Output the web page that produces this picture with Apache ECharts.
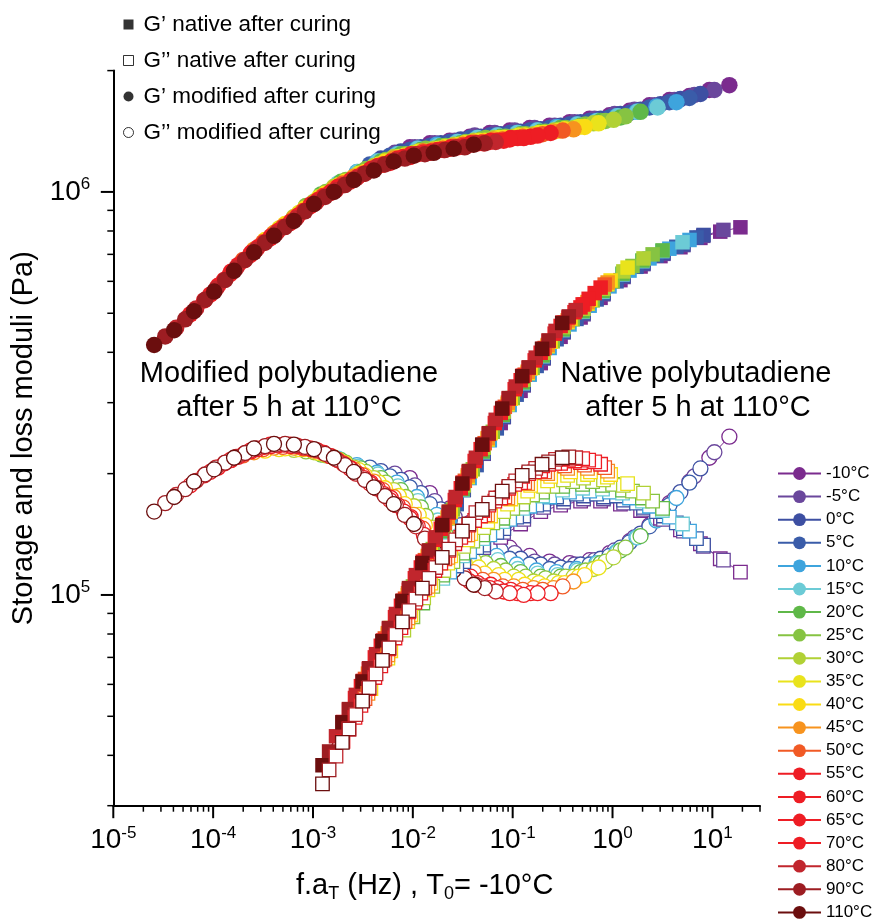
<!DOCTYPE html>
<html><head><meta charset="utf-8">
<script src="https://cdn.jsdelivr.net/npm/echarts@6/dist/echarts.min.js"></script>
<style>html,body{margin:0;padding:0;background:#fff}#chart{width:875px;height:924px}</style>
</head><body><div id="chart"></div>
<script>
// ---- data ----
const temps = ['-10°C','-5°C','0°C','5°C','10°C','15°C','20°C','25°C','30°C','35°C','40°C','45°C','50°C','55°C','60°C','65°C','70°C','80°C','90°C','110°C'];
const colors = ['#7B2B8E','#6A479C','#3D4FA2','#3A5CA9','#3EA4DD','#6CCBD6','#5FB848','#86C342','#B1D135','#E9E31C','#FADC14','#F7931E','#F15A25','#EE1D24','#EE1D24','#EE1D24','#EE1D24','#C1262D','#9D1D22','#6B0E0E'];
// measurement frequencies (Hz)
const freqModified = [0.00933, 0.0148, 0.0234, 0.0372, 0.0589, 0.0933, 0.148, 0.234, 0.372, 0.589, 0.933, 1.48, 2.34, 3.72, 5.89, 9.33, 14.8];
const freqNative = [0.0759, 0.120, 0.191, 0.302, 0.479, 0.759, 1.20, 1.91, 3.02, 4.79, 7.59, 12.0, 19.1];
// shift factors aT (T0 = -10 °C), one per temperature
const aTModified = [1, 0.708, 0.513, 0.398, 0.295, 0.191, 0.129, 0.0912, 0.0692, 0.0490, 0.0355, 0.0275, 0.0214, 0.0162, 0.0120, 0.00871, 0.00631, 0.00457, 0.00355, 0.00275];
const aTNative = [1, 0.676, 0.427, 0.363, 0.309, 0.263, 0.166, 0.132, 0.107, 0.0741, 0.0501, 0.0468, 0.0437, 0.0398, 0.0347, 0.0302, 0.0263, 0.0224, 0.0191, 0.0164];
// G' modified (Pa), rows = temperatures
const GpModified = [
 [1.29e6,1.32e6,1.34e6,1.37e6,1.40e6,1.42e6,1.44e6,1.46e6,1.49e6,1.52e6,1.55e6,1.59e6,1.64e6,1.69e6,1.73e6,1.79e6,1.84e6],
 [1.25e6,1.29e6,1.32e6,1.34e6,1.38e6,1.40e6,1.42e6,1.44e6,1.46e6,1.49e6,1.52e6,1.56e6,1.60e6,1.64e6,1.69e6,1.74e6,1.79e6],
 [1.21e6,1.26e6,1.29e6,1.32e6,1.35e6,1.37e6,1.39e6,1.41e6,1.43e6,1.46e6,1.49e6,1.52e6,1.56e6,1.60e6,1.65e6,1.70e6,1.75e6],
 [1.17e6,1.23e6,1.27e6,1.30e6,1.33e6,1.36e6,1.38e6,1.40e6,1.42e6,1.44e6,1.47e6,1.50e6,1.53e6,1.57e6,1.62e6,1.67e6,1.71e6],
 [1.12e6,1.19e6,1.24e6,1.28e6,1.31e6,1.33e6,1.36e6,1.38e6,1.40e6,1.42e6,1.45e6,1.47e6,1.50e6,1.54e6,1.58e6,1.63e6,1.67e6],
 [1.05e6,1.12e6,1.19e6,1.24e6,1.28e6,1.30e6,1.33e6,1.36e6,1.38e6,1.40e6,1.42e6,1.44e6,1.47e6,1.50e6,1.54e6,1.58e6,1.62e6],
 [9.86e5,1.06e6,1.12e6,1.19e6,1.24e6,1.27e6,1.30e6,1.32e6,1.35e6,1.37e6,1.39e6,1.41e6,1.44e6,1.46e6,1.50e6,1.53e6,1.58e6],
 [9.23e5,1.00e6,1.07e6,1.14e6,1.20e6,1.24e6,1.28e6,1.30e6,1.33e6,1.36e6,1.37e6,1.39e6,1.41e6,1.44e6,1.47e6,1.50e6,1.54e6],
 [8.67e5,9.46e5,1.03e6,1.09e6,1.16e6,1.22e6,1.25e6,1.28e6,1.31e6,1.34e6,1.36e6,1.37e6,1.39e6,1.42e6,1.44e6,1.48e6,1.51e6],
 [8.11e5,8.87e5,9.70e5,1.04e6,1.11e6,1.17e6,1.22e6,1.26e6,1.28e6,1.31e6,1.34e6,1.36e6,1.38e6,1.40e6,1.42e6,1.45e6,1.48e6],
 [7.60e5,8.32e5,9.10e5,9.89e5,1.06e6,1.12e6,1.19e6,1.23e6,1.26e6,1.29e6,1.32e6,1.34e6,1.36e6,1.38e6,1.40e6,1.43e6,1.45e6],
 [7.19e5,7.91e5,8.61e5,9.40e5,1.02e6,1.09e6,1.15e6,1.21e6,1.24e6,1.27e6,1.30e6,1.33e6,1.35e6,1.36e6,1.38e6,1.41e6,1.43e6],
 [6.78e5,7.50e5,8.20e5,8.97e5,9.77e5,1.05e6,1.11e6,1.17e6,1.22e6,1.26e6,1.28e6,1.31e6,1.33e6,1.35e6,1.37e6,1.39e6,1.42e6],
 [6.34e5,7.06e5,7.76e5,8.45e5,9.31e5,1.00e6,1.07e6,1.14e6,1.19e6,1.24e6,1.26e6,1.29e6,1.32e6,1.34e6,1.36e6,1.37e6,1.40e6],
 [5.85e5,6.58e5,7.29e5,8.00e5,8.73e5,9.55e5,1.03e6,1.09e6,1.16e6,1.21e6,1.24e6,1.27e6,1.29e6,1.32e6,1.34e6,1.36e6,1.38e6],
 [5.38e5,6.05e5,6.76e5,7.48e5,8.18e5,8.95e5,9.75e5,1.04e6,1.11e6,1.17e6,1.22e6,1.25e6,1.27e6,1.30e6,1.32e6,1.34e6,1.36e6],
 [4.97e5,5.56e5,6.25e5,6.97e5,7.67e5,8.36e5,9.20e5,9.93e5,1.06e6,1.13e6,1.18e6,1.22e6,1.25e6,1.28e6,1.31e6,1.33e6,1.35e6],
 [4.60e5,5.14e5,5.75e5,6.47e5,7.19e5,7.89e5,8.59e5,9.40e5,1.01e6,1.08e6,1.15e6,1.20e6,1.24e6,1.26e6,1.29e6,1.32e6,1.33e6],
 [4.38e5,4.83e5,5.40e5,6.05e5,6.78e5,7.48e5,8.18e5,8.95e5,9.72e5,1.04e6,1.11e6,1.17e6,1.21e6,1.24e6,1.27e6,1.29e6,1.32e6],
 [4.17e5,4.54e5,5.06e5,5.66e5,6.37e5,7.08e5,7.78e5,8.47e5,9.33e5,1.00e6,1.07e6,1.13e6,1.19e6,1.23e6,1.25e6,1.28e6,1.31e6]
];
// G'' modified (Pa)
const GppModified = [
 [1.95e5,1.79e5,1.64e5,1.51e5,1.40e5,1.31e5,1.25e5,1.21e5,1.20e5,1.22e5,1.27e5,1.36e5,1.49e5,1.69e5,1.91e5,2.19e5,2.47e5],
 [2.00e5,1.87e5,1.71e5,1.56e5,1.44e5,1.34e5,1.27e5,1.21e5,1.19e5,1.19e5,1.22e5,1.29e5,1.39e5,1.53e5,1.73e5,1.97e5,2.26e5],
 [2.03e5,1.93e5,1.79e5,1.63e5,1.49e5,1.37e5,1.29e5,1.23e5,1.19e5,1.17e5,1.19e5,1.23e5,1.31e5,1.42e5,1.58e5,1.80e5,2.06e5],
 [2.07e5,1.97e5,1.85e5,1.68e5,1.53e5,1.40e5,1.31e5,1.23e5,1.19e5,1.16e5,1.16e5,1.19e5,1.25e5,1.35e5,1.48e5,1.67e5,1.90e5],
 [2.10e5,2.01e5,1.90e5,1.75e5,1.58e5,1.44e5,1.33e5,1.25e5,1.19e5,1.15e5,1.14e5,1.16e5,1.20e5,1.28e5,1.39e5,1.53e5,1.74e5],
 [2.18e5,2.08e5,1.99e5,1.86e5,1.71e5,1.53e5,1.40e5,1.29e5,1.22e5,1.16e5,1.13e5,1.12e5,1.15e5,1.20e5,1.28e5,1.39e5,1.54e5],
 [2.23e5,2.16e5,2.06e5,1.95e5,1.82e5,1.65e5,1.48e5,1.35e5,1.25e5,1.18e5,1.14e5,1.11e5,1.11e5,1.14e5,1.20e5,1.29e5,1.40e5],
 [2.27e5,2.22e5,2.13e5,2.02e5,1.90e5,1.75e5,1.57e5,1.41e5,1.29e5,1.20e5,1.15e5,1.11e5,1.10e5,1.11e5,1.15e5,1.21e5,1.31e5],
 [2.29e5,2.26e5,2.19e5,2.07e5,1.95e5,1.82e5,1.66e5,1.47e5,1.33e5,1.22e5,1.16e5,1.11e5,1.08e5,1.08e5,1.11e5,1.16e5,1.24e5],
 [2.30e5,2.30e5,2.25e5,2.16e5,2.04e5,1.90e5,1.76e5,1.58e5,1.40e5,1.27e5,1.17e5,1.12e5,1.09e5,1.07e5,1.07e5,1.11e5,1.17e5],
 [2.28e5,2.31e5,2.30e5,2.23e5,2.12e5,1.98e5,1.84e5,1.68e5,1.49e5,1.33e5,1.20e5,1.13e5,1.09e5,1.06e5,1.05e5,1.07e5,1.12e5],
 [2.26e5,2.32e5,2.32e5,2.28e5,2.19e5,2.05e5,1.91e5,1.75e5,1.58e5,1.38e5,1.24e5,1.14e5,1.09e5,1.05e5,1.04e5,1.04e5,1.08e5],
 [2.22e5,2.30e5,2.33e5,2.31e5,2.25e5,2.12e5,1.98e5,1.82e5,1.65e5,1.46e5,1.29e5,1.17e5,1.09e5,1.05e5,1.03e5,1.03e5,1.05e5],
 [2.16e5,2.27e5,2.34e5,2.34e5,2.30e5,2.21e5,2.06e5,1.90e5,1.74e5,1.56e5,1.36e5,1.21e5,1.11e5,1.06e5,1.03e5,1.01e5,1.01e5],
 [2.07e5,2.20e5,2.30e5,2.35e5,2.34e5,2.28e5,2.16e5,2.00e5,1.84e5,1.67e5,1.48e5,1.29e5,1.16e5,1.07e5,1.04e5,1.01e5,1.01e5],
 [1.98e5,2.12e5,2.24e5,2.33e5,2.36e5,2.32e5,2.25e5,2.11e5,1.95e5,1.78e5,1.61e5,1.41e5,1.24e5,1.12e5,1.05e5,1.02e5,1.00e5],
 [1.87e5,2.02e5,2.16e5,2.28e5,2.36e5,2.36e5,2.31e5,2.21e5,2.06e5,1.89e5,1.72e5,1.55e5,1.34e5,1.19e5,1.08e5,1.04e5,1.01e5],
 [1.77e5,1.92e5,2.07e5,2.20e5,2.31e5,2.36e5,2.35e5,2.29e5,2.17e5,2.00e5,1.84e5,1.67e5,1.48e5,1.28e5,1.15e5,1.06e5,1.02e5],
 [1.69e5,1.83e5,1.99e5,2.13e5,2.25e5,2.34e5,2.37e5,2.33e5,2.24e5,2.10e5,1.93e5,1.76e5,1.58e5,1.38e5,1.21e5,1.10e5,1.04e5],
 [1.61e5,1.75e5,1.91e5,2.05e5,2.19e5,2.31e5,2.37e5,2.36e5,2.30e5,2.19e5,2.02e5,1.85e5,1.68e5,1.50e5,1.29e5,1.15e5,1.06e5]
];
// G' native (Pa)
const GpNative = [
 [2.67e5,3.21e5,3.76e5,4.37e5,4.88e5,5.46e5,6.04e5,6.53e5,6.93e5,7.29e5,7.69e5,7.97e5,8.17e5],
 [2.24e5,2.76e5,3.31e5,3.86e5,4.48e5,4.97e5,5.57e5,6.15e5,6.62e5,7.02e5,7.38e5,7.78e5,8.05e5],
 [1.82e5,2.25e5,2.77e5,3.33e5,3.88e5,4.50e5,5.00e5,5.60e5,6.18e5,6.65e5,7.05e5,7.41e5,7.82e5],
 [1.68e5,2.10e5,2.59e5,3.14e5,3.70e5,4.31e5,4.84e5,5.41e5,6.00e5,6.52e5,6.95e5,7.31e5,7.71e5],
 [1.55e5,1.95e5,2.42e5,2.96e5,3.52e5,4.10e5,4.69e5,5.22e5,5.83e5,6.38e5,6.84e5,7.23e5,7.60e5],
 [1.43e5,1.82e5,2.26e5,2.79e5,3.35e5,3.91e5,4.54e5,5.04e5,5.65e5,6.24e5,6.73e5,7.13e5,7.50e5],
 [1.16e5,1.44e5,1.83e5,2.27e5,2.80e5,3.37e5,3.93e5,4.56e5,5.06e5,5.68e5,6.27e5,6.76e5,7.16e5],
 [1.05e5,1.30e5,1.63e5,2.05e5,2.54e5,3.08e5,3.66e5,4.26e5,4.83e5,5.38e5,6.00e5,6.55e5,7.00e5],
 [9.51e4,1.18e5,1.47e5,1.87e5,2.32e5,2.85e5,3.42e5,3.99e5,4.62e5,5.13e5,5.75e5,6.35e5,6.84e5],
 [7.96e4,9.98e4,1.24e5,1.55e5,1.96e5,2.43e5,2.97e5,3.55e5,4.14e5,4.75e5,5.28e5,5.90e5,6.49e5],
 [6.58e4,8.28e4,1.04e5,1.29e5,1.61e5,2.03e5,2.52e5,3.07e5,3.65e5,4.25e5,4.85e5,5.40e5,6.03e5],
 [6.38e4,8.04e4,1.01e5,1.25e5,1.56e5,1.98e5,2.45e5,3.00e5,3.58e5,4.17e5,4.80e5,5.33e5,5.96e5],
 [6.19e4,7.80e4,9.79e4,1.22e5,1.51e5,1.92e5,2.38e5,2.93e5,3.52e5,4.10e5,4.74e5,5.26e5,5.89e5],
 [5.94e4,7.48e4,9.40e4,1.17e5,1.46e5,1.84e5,2.30e5,2.83e5,3.41e5,3.99e5,4.65e5,5.17e5,5.79e5],
 [5.55e4,7.00e4,8.81e4,1.10e5,1.37e5,1.72e5,2.15e5,2.67e5,3.24e5,3.82e5,4.45e5,5.03e5,5.61e5],
 [5.19e4,6.55e4,8.24e4,1.03e5,1.28e5,1.60e5,2.02e5,2.51e5,3.07e5,3.66e5,4.27e5,4.88e5,5.43e5],
 [4.84e4,6.12e4,7.71e4,9.68e4,1.21e5,1.50e5,1.90e5,2.36e5,2.91e5,3.50e5,4.08e5,4.74e5,5.26e5],
 [4.46e4,5.65e4,7.13e4,8.97e4,1.12e5,1.39e5,1.75e5,2.19e5,2.72e5,3.29e5,3.88e5,4.52e5,5.09e5],
 [4.09e4,5.21e4,6.58e4,8.28e4,1.04e5,1.29e5,1.61e5,2.03e5,2.52e5,3.08e5,3.67e5,4.28e5,4.91e5],
 [3.78e4,4.83e4,6.10e4,7.68e4,9.66e4,1.20e5,1.49e5,1.89e5,2.36e5,2.90e5,3.49e5,4.08e5,4.73e5]
];
// G'' native (Pa)
const GppNative = [
 [1.39e5,1.50e5,1.61e5,1.67e5,1.71e5,1.71e5,1.68e5,1.62e5,1.55e5,1.45e5,1.34e5,1.23e5,1.14e5],
 [1.31e5,1.43e5,1.54e5,1.65e5,1.70e5,1.73e5,1.73e5,1.69e5,1.63e5,1.54e5,1.44e5,1.32e5,1.22e5],
 [1.21e5,1.33e5,1.46e5,1.57e5,1.68e5,1.73e5,1.76e5,1.75e5,1.72e5,1.65e5,1.57e5,1.46e5,1.33e5],
 [1.18e5,1.31e5,1.43e5,1.56e5,1.67e5,1.75e5,1.78e5,1.78e5,1.76e5,1.69e5,1.61e5,1.51e5,1.38e5],
 [1.14e5,1.28e5,1.41e5,1.54e5,1.66e5,1.75e5,1.80e5,1.81e5,1.80e5,1.74e5,1.66e5,1.56e5,1.44e5],
 [1.10e5,1.25e5,1.38e5,1.52e5,1.64e5,1.76e5,1.82e5,1.84e5,1.83e5,1.79e5,1.71e5,1.62e5,1.50e5],
 [9.55e4,1.12e5,1.27e5,1.41e5,1.55e5,1.68e5,1.80e5,1.86e5,1.88e5,1.87e5,1.82e5,1.74e5,1.64e5],
 [8.83e4,1.05e5,1.21e5,1.36e5,1.51e5,1.64e5,1.77e5,1.86e5,1.91e5,1.91e5,1.88e5,1.81e5,1.71e5],
 [8.18e4,9.83e4,1.15e5,1.32e5,1.47e5,1.61e5,1.75e5,1.86e5,1.93e5,1.95e5,1.93e5,1.87e5,1.79e5],
 [6.97e4,8.59e4,1.03e5,1.20e5,1.37e5,1.52e5,1.68e5,1.81e5,1.92e5,1.98e5,1.99e5,1.96e5,1.89e5],
 [5.86e4,7.27e4,8.93e4,1.07e5,1.25e5,1.42e5,1.57e5,1.73e5,1.87e5,1.97e5,2.02e5,2.02e5,1.99e5],
 [5.70e4,7.10e4,8.77e4,1.05e5,1.24e5,1.41e5,1.58e5,1.74e5,1.89e5,2.00e5,2.06e5,2.06e5,2.03e5],
 [5.53e4,6.93e4,8.59e4,1.04e5,1.23e5,1.41e5,1.58e5,1.75e5,1.90e5,2.02e5,2.09e5,2.10e5,2.07e5],
 [5.32e4,6.67e4,8.30e4,1.01e5,1.20e5,1.39e5,1.57e5,1.74e5,1.90e5,2.03e5,2.12e5,2.13e5,2.11e5],
 [4.97e4,6.24e4,7.82e4,9.59e4,1.15e5,1.34e5,1.53e5,1.71e5,1.88e5,2.02e5,2.12e5,2.15e5,2.14e5],
 [4.65e4,5.86e4,7.35e4,9.08e4,1.10e5,1.29e5,1.49e5,1.67e5,1.84e5,2.00e5,2.11e5,2.17e5,2.16e5],
 [4.33e4,5.47e4,6.89e4,8.57e4,1.04e5,1.24e5,1.44e5,1.62e5,1.80e5,1.97e5,2.09e5,2.18e5,2.18e5],
 [3.98e4,5.05e4,6.37e4,7.98e4,9.77e4,1.17e5,1.37e5,1.60e5,1.74e5,1.92e5,2.06e5,2.17e5,2.19e5],
 [3.68e4,4.65e4,5.89e4,7.39e4,9.14e4,1.10e5,1.30e5,1.50e5,1.69e5,1.86e5,2.02e5,2.14e5,2.20e5],
 [3.40e4,4.31e4,5.45e4,6.88e4,8.57e4,1.04e5,1.24e5,1.44e5,1.63e5,1.81e5,1.98e5,2.11e5,2.19e5]
];
// axes
const xMin = 1e-5, xMax = 30, yMin = 3e4, yMax = 2e6;
const xMajorTicks = [1e-5, 1e-4, 1e-3, 1e-2, 1e-1, 1, 10];
const yMajorTicks = [1e5, 1e6];
const minorMultipliers = [2, 3, 4, 5, 6, 7, 8, 9];
const legendNames = ['G’ native after curing', 'G’’ native after curing', 'G’ modified after curing', 'G’’ modified after curing'];

// ---- chart ----
const FONT = '"Liberation Sans", Arial, Helvetica, sans-serif';
const chart = echarts.init(document.getElementById('chart'), null, {renderer: 'canvas'});

function minorList(lo, hi, eFrom, eTo) {
  const out = [];
  for (let e = eFrom; e <= eTo; e++) minorMultipliers.forEach(m => { const v = m * Math.pow(10, e); if (v >= lo * 0.999 && v <= hi * 1.001) out.push(v); });
  return out;
}
const xTickData = xMajorTicks.map(v => [v, yMin, 1]).concat(minorList(xMin, xMax, -5, 1).map(v => [v, yMin, 0]));
const yTickData = yMajorTicks.map(v => [xMin, v, 1]).concat(minorList(yMin, yMax, 4, 6).map(v => [xMin, v, 0]));

function tickSeries(name, data, horizontal) {
  return {
    type: 'custom', name, data, silent: true, clip: false, animation: false, z: 5,
    renderItem: function (params, api) {
      const p = api.coord([api.value(0), api.value(1)]);
      const major = api.value(2) === 1;
      const len = major ? 12.5 : 6;
      const shape = horizontal ? {x1: p[0], y1: p[1], x2: p[0], y2: p[1] + len} : {x1: p[0], y1: p[1], x2: p[0] - len, y2: p[1]};
      return {type: 'line', shape, style: {stroke: '#000', lineWidth: major ? 2 : 1.5}};
    }
  };
}

const kinds = [
  {vals: GpModified, freq: freqModified, aT: aTModified, symbol: 'circle', size: 16.5, open: false},
  {vals: GppModified, freq: freqModified, aT: aTModified, symbol: 'circle', size: 15, open: true},
  {vals: GpNative, freq: freqNative, aT: aTNative, symbol: 'rect', size: 14.5, open: false},
  {vals: GppNative, freq: freqNative, aT: aTNative, symbol: 'rect', size: 13.5, open: true}
];
const series = [];
kinds.forEach(k => {
  temps.forEach((name, i) => {
    series.push({
      type: 'line', name,
      data: k.freq.map((f, j) => [f * k.aT[i], k.vals[i][j]]),
      symbol: k.symbol, symbolSize: k.size, showSymbol: true,
      lineStyle: {width: 1, color: colors[i]},
      itemStyle: k.open ? {color: '#fff', borderColor: colors[i], borderWidth: 1.3} : {color: colors[i], borderWidth: 0},
      emphasis: {disabled: true}, silent: true, animation: false
    });
  });
});
// legend-only entries for the symbol key
series.push({type: 'scatter', name: legendNames[0], data: [], symbol: 'rect', itemStyle: {color: '#000'}});
series.push({type: 'scatter', name: legendNames[1], data: [], symbol: 'rect', itemStyle: {color: '#fff', borderColor: '#000', borderWidth: 1}});
series.push({type: 'scatter', name: legendNames[2], data: [], symbol: 'circle', itemStyle: {color: '#000'}});
series.push({type: 'scatter', name: legendNames[3], data: [], symbol: 'circle', itemStyle: {color: '#fff', borderColor: '#000', borderWidth: 1}});
series.push(tickSeries('xticks', xTickData, true));
series.push(tickSeries('yticks', yTickData, false));

function powLabel(v) {
  const l = Math.log10(v), e = Math.round(l);
  if (Math.abs(l - e) > 1e-6) return '';
  return '{b|10}{s|' + e + '}';
}

const option = {
  animation: false,
  backgroundColor: '#fff',
  textStyle: {fontFamily: FONT, color: '#000'},
  grid: {left: 113.3, right: 115, top: 70.6, bottom: 118.3, containLabel: false, outerBoundsMode: 'none'},
  xAxis: {
    type: 'log', logBase: 10, min: xMin, max: xMax,
    axisLine: {show: true, onZero: false, lineStyle: {color: '#000', width: 2}},
    axisTick: {show: false}, minorTick: {show: false}, splitLine: {show: false},
    axisLabel: {
      show: true, margin: 19, formatter: powLabel, color: '#000',
      rich: {
        b: {fontSize: 28, fontFamily: FONT, color: '#000', lineHeight: 32},
        s: {fontSize: 17, fontFamily: FONT, color: '#000', lineHeight: 14, verticalAlign: 'top'}
      }
    },
    name: 'f.a{sub|T} (Hz) , T{sub|0}= -10°C', nameLocation: 'middle', nameGap: 63,
    nameTextStyle: {
      fontSize: 29, fontFamily: FONT, color: '#000', lineHeight: 34, padding: [0, 24, 0, 0],
      rich: {sub: {fontSize: 18, fontFamily: FONT, color: '#000', lineHeight: 18, verticalAlign: 'bottom'}}
    }
  },
  yAxis: {
    type: 'log', logBase: 10, min: yMin, max: yMax,
    axisLine: {show: true, onZero: false, lineStyle: {color: '#000', width: 2}},
    axisTick: {show: false}, minorTick: {show: false}, splitLine: {show: false},
    axisLabel: {
      show: true, margin: 23, formatter: powLabel, color: '#000',
      rich: {
        b: {fontSize: 28, fontFamily: FONT, color: '#000', lineHeight: 32},
        s: {fontSize: 17, fontFamily: FONT, color: '#000', lineHeight: 14, verticalAlign: 'top'}
      }
    },
    name: 'Storage and loss moduli (Pa)', nameLocation: 'middle', nameGap: 72,
    nameTextStyle: {fontSize: 29, fontFamily: FONT, color: '#000'}
  },
  legend: [
    {
      orient: 'vertical', left: 777, top: 465, height: 459, padding: 0, itemWidth: 43, itemHeight: 16, itemGap: 6.1,
      selectedMode: false, data: temps,
      lineStyle: {width: 2},
      textStyle: {fontSize: 17, fontFamily: FONT, color: '#000', lineHeight: 17}
    },
    {
      orient: 'vertical', left: 123, top: 13, padding: 0, itemWidth: 10, itemHeight: 10, itemGap: 13,
      selectedMode: false,
      data: [
        {name: legendNames[0], icon: 'rect', itemStyle: {color: '#000', borderWidth: 0}},
        {name: legendNames[1], icon: 'rect', itemStyle: {color: '#fff', borderColor: '#000', borderWidth: 1}},
        {name: legendNames[2], icon: 'circle', itemStyle: {color: '#000', borderWidth: 0}},
        {name: legendNames[3], icon: 'circle', itemStyle: {color: '#fff', borderColor: '#000', borderWidth: 1}}
      ],
      textStyle: {fontSize: 22.5, fontFamily: FONT, color: '#000', lineHeight: 22, padding: [0, 0, 0, 5]}
    }
  ],
  graphic: [
    {type: 'text', x: 289, y: 374, silent: true, style: {text: 'Modified polybutadiene', font: '29px ' + FONT, fill: '#000', align: 'center', verticalAlign: 'middle', textAlign: 'center', textVerticalAlign: 'middle'}},
    {type: 'text', x: 289, y: 408, silent: true, style: {text: 'after 5 h at 110°C', font: '29px ' + FONT, fill: '#000', align: 'center', verticalAlign: 'middle', textAlign: 'center', textVerticalAlign: 'middle'}},
    {type: 'text', x: 696, y: 374, silent: true, style: {text: 'Native polybutadiene', font: '29px ' + FONT, fill: '#000', align: 'center', verticalAlign: 'middle', textAlign: 'center', textVerticalAlign: 'middle'}},
    {type: 'text', x: 698, y: 408, silent: true, style: {text: 'after 5 h at 110°C', font: '29px ' + FONT, fill: '#000', align: 'center', verticalAlign: 'middle', textAlign: 'center', textVerticalAlign: 'middle'}}
  ],
  series
};
chart.setOption(option);
</script></body></html>
